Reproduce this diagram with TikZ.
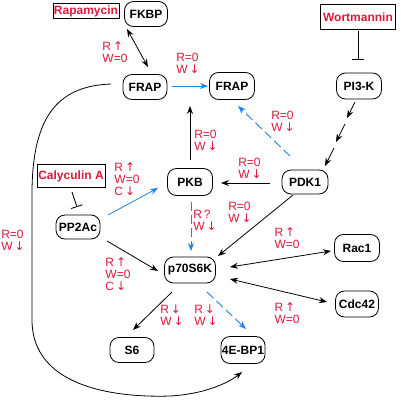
\documentclass[tikz,border=0pt]{standalone}
\usepackage{fontspec}
\setmainfont{Liberation Sans}
\newfontfamily\arrfont{DejaVu Sans}
\newcommand{\UA}{\,{\arrfont ↑}}
\newcommand{\DA}{\,{\arrfont ↓}}
\usetikzlibrary{arrows.meta}
\definecolor{labred}{RGB}{222,24,58}
\definecolor{arrblue}{RGB}{30,130,235}
\begin{document}
\begin{tikzpicture}[x=1pt,y=-1pt,
  box/.style={draw, rounded corners=9pt, line width=0.8pt, font=\bfseries\fontsize{12}{13}\selectfont, minimum width=44pt, minimum height=25pt, inner sep=1pt},
  drug/.style={draw, line width=0.8pt, text=labred, font=\bfseries\fontsize{12}{13}\selectfont, inner sep=1pt},
  lab/.style={text=labred, font=\fontsize{12}{12.2}\selectfont, align=left, inner sep=0pt},
  conn/.style={line width=0.8pt, -{Stealth[length=8pt,width=6pt]}},
  dbl/.style={line width=0.8pt, {Stealth[length=8pt,width=6pt]}-{Stealth[length=8pt,width=6pt]}},
  blue/.style={conn, draw=arrblue, -{Stealth[length=8pt,width=6pt,color=arrblue]}},
  bdash/.style={blue, line width=0.9pt, dash pattern=on 9pt off 4pt},
  inh/.style={line width=0.8pt, -{Bar[width=12pt,line width=0.8pt]}}
]
\useasboundingbox (0,0) rectangle (400,401);
% nodes
\node[drug, minimum width=66pt, minimum height=15pt] (rapa) at (86,11) {Rapamycin};
\node[box, minimum width=43pt] (fkbp) at (146,14) {FKBP};
\node[box] (frapL) at (145,87) {FRAP};
\node[box, minimum width=45pt, minimum height=27pt] (frapR) at (232,86) {FRAP};
\node[drug, minimum width=75pt, minimum height=25pt] (wort) at (358,17) {Wortmannin};
\node[box, minimum width=45pt, minimum height=26pt] (pi3k) at (359,86) {PI3-K};
\node[box, minimum width=46pt, minimum height=24pt] (pdk1) at (305,182) {PDK1};
\node[box, minimum width=45pt, minimum height=27pt] (pkb) at (190,182) {PKB};
\node[drug, minimum width=68pt, minimum height=23pt] (caly) at (71,176) {Calyculin A};
\node[box, minimum height=24pt] (pp2a) at (78,227) {PP2Ac};
\node[box, minimum width=51pt, minimum height=26pt] (p70) at (190,270) {p70S6K};
\node[box, minimum width=45pt, minimum height=27pt] (rac1) at (357,248) {Rac1};
\node[box, minimum width=43pt, minimum height=26pt] (cdc42) at (357,304) {Cdc42};
\node[box] (s6) at (132,350) {S6};
\node[box, minimum height=27pt] (bp1) at (243,350) {4E-BP1};
% connector end points
\coordinate (a1) at (127,29);
\coordinate (a2) at (148,67);
\coordinate (b1) at (172,86);
\coordinate (b2) at (208,86);
\coordinate (c1) at (190,160);
\coordinate (c2) at (190,106);
\coordinate (d1) at (290,156);
\coordinate (d2) at (238,106);
\coordinate (e1) at (358,31);
\coordinate (e2) at (358,60);
\coordinate (f1) at (355,102);
\coordinate (f2) at (347,118);
\coordinate (f3) at (345,124);
\coordinate (f4) at (336,142);
\coordinate (f5) at (334,148);
\coordinate (f6) at (325,166);
\coordinate (g1) at (270,183);
\coordinate (g2) at (221,183);
\coordinate (h1) at (293,195);
\coordinate (h2) at (218,256);
\coordinate (i1) at (191,202);
\coordinate (i2) at (191,251);
\coordinate (j1) at (107,241);
\coordinate (j2) at (158,271);
\coordinate (k1) at (72,192);
\coordinate (k2) at (77,207);
\coordinate (l1) at (108,215);
\coordinate (l2) at (158,188);
\coordinate (m1) at (230,267);
\coordinate (m2) at (331,251);
\coordinate (n1) at (230,279);
\coordinate (n2) at (327,302);
\coordinate (o1) at (172,292);
\coordinate (o2) at (133,330);
\coordinate (q1) at (207,292);
\coordinate (q2) at (246,329);
\coordinate (r0) at (111,84);
\coordinate (r1) at (32,190);
\coordinate (r2) at (32,320);
\coordinate (r3) at (170,396);
\coordinate (r4) at (242,372);
% connectors
\draw[dbl] (a1) -- (a2);
\draw[blue] (b1) -- (b2);
\draw[conn] (c1) -- (c2);
\draw[bdash] (d1) -- (d2);
\draw[inh] (e1) -- (e2);
\draw[conn] (f1) -- (f2);
\draw[conn] (f3) -- (f4);
\draw[conn] (f5) -- (f6);
\draw[conn] (g1) -- (g2);
\draw[conn] (h1) -- (h2);
\draw[bdash] (i1) -- (i2);
\draw[conn] (j1) -- (j2);
\draw[inh] (k1) -- (k2);
\draw[blue] (l1) -- (l2);
\draw[dbl] (m1) -- (m2);
\draw[dbl] (n1) -- (n2);
\draw[conn] (o1) -- (o2);
\draw[bdash] (q1) -- (q2);
\draw[conn] (r0) .. controls (55,86) and (33,120) .. (r1) -- (r2)
  .. controls (32,385) and (110,398) .. (r3) .. controls (205,394) and (228,383) .. (r4);
% labels
\node[lab] (l01) at (115,52) {R\UA\\W=0};
\node[lab] (l02) at (188,63) {R=0\\W\DA};
\node[lab] (l03) at (206,140) {R=0\\W\DA};
\node[lab] (l04) at (283,121) {R=0\\W\DA};
\node[lab] (l05) at (250,168) {R=0\\W\DA};
\node[lab] (l06) at (127,179) {R\UA\\W=0\\C\DA};
\node[lab] (l07) at (205,220) {R\,?\\W\DA};
\node[lab] (l08) at (240,212) {R=0\\W\DA};
\node[lab] (l09) at (287,238) {R\UA\\W=0};
\node[lab] (l10) at (287,313) {R\UA\\W=0};
\node[lab] (l11) at (118,274) {R\UA\\W=0\\C\DA};
\node[lab] (l12) at (13,240) {R=0\\W\DA};
\node[lab] (l13) at (172,315) {R\DA\\W\DA};
\node[lab] (l14) at (206,315) {R\DA\\W\DA};
\end{tikzpicture}
\end{document}
